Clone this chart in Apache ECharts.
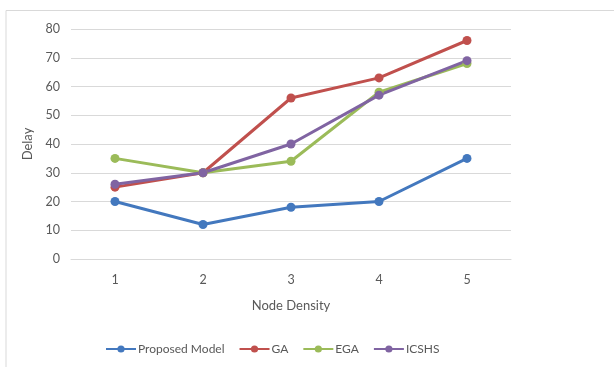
<!DOCTYPE html>
<html>
<head>
<meta charset="utf-8">
<script src="https://cdn.jsdelivr.net/npm/echarts@6/dist/echarts.min.js"></script>
<style>
  html, body { margin: 0; padding: 0; background: #fff; }
  #main { width: 614px; height: 367px; }
</style>
</head>
<body>
<div id="main"></div>
<script>
  // values
  const categories = ['1', '2', '3', '4', '5']
  const proposedModel = [20, 12, 18, 20, 35]
  const ga = [25, 30, 56, 63, 76]
  const ega = [35, 30, 34, 58, 68]
  const icshs = [26, 30, 40, 57, 69]

  const textColor = '#595959'
  const font = 'Lato, "Open Sans", sans-serif'

  let chart = echarts.init(document.getElementById('main'))

  function lineSeries(name, data, color) {
    return {
      name: name,
      type: 'line',
      data: data,
      symbol: 'circle',
      symbolSize: 9,
      itemStyle: { color: color },
      lineStyle: { width: 3, color: color }
    }
  }

  let option = {
    animation: false,
    textStyle: { fontFamily: font },
    grid: { left: 71, right: 103, top: 29, bottom: 108 },
    graphic: [
      {
        type: 'polyline',
        shape: { points: [[6, 367], [6, 10.5], [614, 10.5]] },
        style: { stroke: '#d9d9d9', lineWidth: 1, fill: null }
      }
    ],
    legend: {
      left: 100,
      top: 338,
      itemWidth: 30,
      itemHeight: 9,
      itemGap: 14,
      textStyle: { color: textColor, fontSize: 12, fontFamily: font, padding: [0, 0, 0, -3] },
      data: ['Proposed Model', 'GA', 'EGA', 'ICSHS']
    },
    xAxis: {
      type: 'category',
      data: categories,
      boundaryGap: true,
      name: 'Node Density',
      nameLocation: 'middle',
      nameGap: 40,
      nameTextStyle: { color: textColor, fontSize: 13 },
      axisLine: { show: true, lineStyle: { color: '#d9d9d9' } },
      axisTick: { show: false },
      axisLabel: { color: textColor, fontSize: 12.5, margin: 14 }
    },
    yAxis: {
      type: 'value',
      min: 0,
      max: 80,
      interval: 10,
      name: 'Delay',
      nameLocation: 'middle',
      nameGap: 33,
      nameTextStyle: { color: textColor, fontSize: 13 },
      axisLine: { show: false },
      axisTick: { show: false },
      axisLabel: { color: textColor, fontSize: 12.5, margin: 11 },
      splitLine: { lineStyle: { color: '#d9d9d9', width: 1 } }
    },
    series: [
      lineSeries('Proposed Model', proposedModel, '#4378be'),
      lineSeries('GA', ga, '#c0504d'),
      lineSeries('EGA', ega, '#9bbb59'),
      lineSeries('ICSHS', icshs, '#8064a2')
    ]
  }
  option && chart.setOption(option)
</script>
</body>
</html>
